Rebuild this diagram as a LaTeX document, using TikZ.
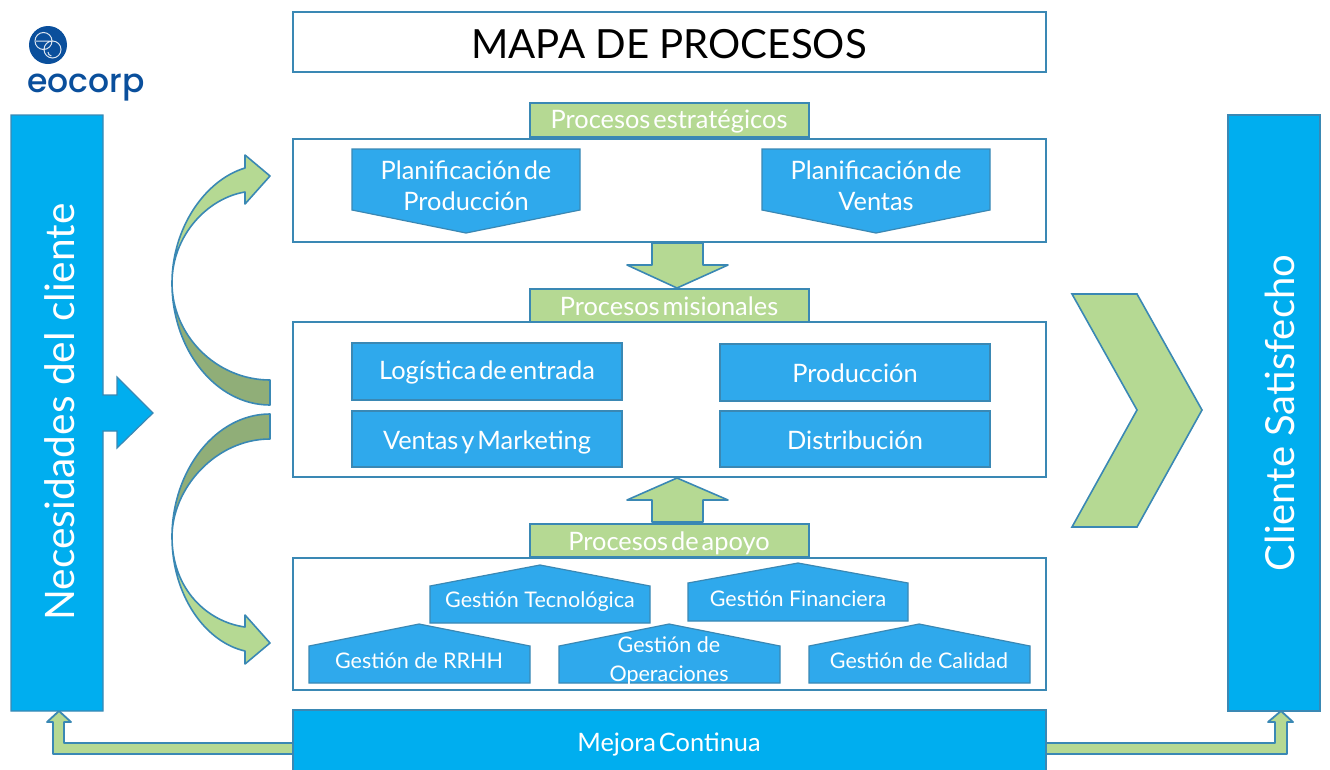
\documentclass[tikz,border=0pt]{standalone}
\usepackage{fontspec}
\setmainfont{Lato}
\newfontfamily\tightfont[WordSpace=0.45]{Lato}
\newfontfamily\logofont{Poppins Medium}
\definecolor{edge}{HTML}{3A88B4}
\definecolor{barblue}{HTML}{00AEEF}
\definecolor{tagblue}{HTML}{2FA9EC}
\definecolor{leaf}{HTML}{B5D993}
\definecolor{leafdark}{HTML}{90AE78}
\definecolor{logoblue}{HTML}{0A4F9C}
\tikzset{
  outline/.style={draw=edge,line width=1.3pt,fill=white},
  tagshape/.style={draw=edge,line width=1.2pt,fill=tagblue},
  barshape/.style={draw=edge,line width=1.2pt,fill=barblue},
  greenshape/.style={draw=edge,line width=1.6pt,fill=leaf,line join=round},
  darkshape/.style={draw=edge,line width=1.6pt,fill=leafdark,line join=round},
  wlabel/.style={text=white,font=\tightfont\fontsize{25.4}{31}\selectfont,align=center,inner sep=0pt},
  slabel/.style={text=white,font=\fontsize{21.5}{29}\selectfont,align=center,inner sep=0pt},
}
\begin{document}
\begin{tikzpicture}[x=1pt,y=-1pt]
\useasboundingbox (0,0) rectangle (1330,769);
% bottom return arrows
\path[greenshape,line width=1.8pt] (293,743) -- (64,743) -- (64,722) -- (71,722) -- (59,711) -- (47,722) -- (53,722) -- (53,754) -- (293,754) -- cycle;
\path[greenshape,line width=1.8pt] (1046,743) -- (1275,743) -- (1275,722) -- (1268,722) -- (1281,711) -- (1293,722) -- (1287,722) -- (1287,754) -- (1046,754) -- cycle;
% side bars
\path[barshape] (11,115) -- (103,115) -- (103,395) -- (117,395) -- (117,377) -- (153,413) -- (117,448) -- (117,431) -- (103,431) -- (103,711) -- (11,711) -- cycle;
\path[barshape] (1228,115) rectangle (1320,711);
\node[text=white,font=\fontsize{40.6}{44}\selectfont,rotate=90,inner sep=0pt] (need) at (60,412) {Necesidades del cliente};
\node[text=white,font=\fontsize{40}{44}\selectfont,rotate=90,inner sep=0pt] (happy) at (1280,413) {Cliente Satisfecho};
% logo
\fill[logoblue] (48,45) circle (19);
\draw[white!85!logoblue,line width=1pt] (43.5,41) circle (8.5) (52.5,49.5) circle (8.5) (36,41) -- (51,41) (48,52) arc (180:100:4);
\node[text=logoblue,font=\logofont\fontsize{33}{34}\selectfont,inner sep=0pt] (logo) at (86,87.5) {eocorp};
% title
\path[outline] (293,12) rectangle (1046,72);
\node[text=black,font=\fontsize{40.2}{44}\selectfont,inner sep=0pt] (title) at (669,44) {MAPA DE PROCESOS};
% strategic
\path[greenshape,line join=miter] (530,103) rectangle (809,137);
\node[wlabel] (est) at (669,122) {Procesos estratégicos};
\path[outline] (293,139) rectangle (1046,242);
\path[tagshape] (352,149) -- (580,149) -- (580,210) -- (466,233) -- (352,210) -- cycle;
\node[wlabel] (pp) at (466,186) {Planificación de\\Producción};
\path[tagshape] (762,149) -- (990,149) -- (990,210) -- (876,233) -- (762,210) -- cycle;
\node[wlabel] (pv) at (876,186) {Planificación de\\Ventas};
% down arrow
\path[greenshape] (652,243) -- (703,243) -- (703,265) -- (728,265) -- (677,288) -- (627,265) -- (652,265) -- cycle;
% missional
\path[greenshape,line join=miter] (530,289) rectangle (809,322);
\node[wlabel] (mis) at (669,306) {Procesos misionales};
\path[outline] (293,322) rectangle (1046,477);
\path[tagshape] (352,343) rectangle (622,400);
\node[wlabel] (log) at (487,372) {Logística de entrada};
\path[tagshape] (720,344) rectangle (990,401);
\node[wlabel] (prod) at (855,373) {Producción};
\path[tagshape] (352,411) rectangle (622,467);
\node[wlabel] (vent) at (487,442) {Ventas y Marketing};
\path[tagshape] (720,411) rectangle (990,467);
\node[wlabel] (dist) at (855,440) {Distribución};
% up arrow
\path[greenshape] (652,522) -- (703,522) -- (703,500) -- (728,500) -- (677,478) -- (627,500) -- (652,500) -- cycle;
% support
\path[greenshape,line join=miter] (530,524) rectangle (809,557);
\node[wlabel] (apo) at (669,543) {Procesos de apoyo};
\path[outline] (293,558) rectangle (1046,690);
\path[tagshape] (430,586) -- (540,565) -- (650,586) -- (650,623) -- (430,623) -- cycle;
\node[slabel] (gt) at (540,601.5) {Gestión Tecnológica};
\path[tagshape] (688,583) -- (798,563) -- (908,583) -- (908,621) -- (688,621) -- cycle;
\node[slabel] (gf) at (798,598.5) {Gestión Financiera};
\path[tagshape] (309,646) -- (419,624) -- (530,646) -- (530,683) -- (309,683) -- cycle;
\node[slabel] (gr) at (419,660.5) {Gestión de RRHH};
\path[tagshape] (559,646) -- (669,624) -- (780,646) -- (780,683) -- (559,683) -- cycle;
\node[slabel] (go) at (669,661) {Gestión de\\Operaciones};
\path[tagshape] (809,646) -- (919,624) -- (1030,646) -- (1030,683) -- (809,683) -- cycle;
\node[slabel] (gc) at (919,660.5) {Gestión de Calidad};
% mejora
\path[barshape] (293,710) rectangle (1046,772);
\node[wlabel] (mej) at (669,744) {Mejora Continua};
% curved arrows
\path[darkshape] (270,380) -- (270,405) .. controls (216,405) and (172,350) .. (172,283) .. controls (172,335) and (216,380) .. (270,380) -- cycle;
\path[greenshape] (172,283) .. controls (172,228) and (205,180) .. (245,168) -- (245,155) -- (270,176) -- (245,204) -- (245,192) .. controls (208,198) and (172,235) .. (172,283) -- cycle;
\path[darkshape] (270,439) -- (270,414) .. controls (216,414) and (172,470) .. (172,537) .. controls (172,488) and (216,439) .. (270,439) -- cycle;
\path[greenshape] (172,537) .. controls (172,590) and (208,622) .. (245,627) -- (245,615) -- (270,643) -- (245,664) -- (245,651) .. controls (205,642) and (172,595) .. (172,537) -- cycle;
% chevron
\path[greenshape,line join=miter] (1072,294) -- (1137,294) -- (1202,410) -- (1137,527) -- (1072,527) -- (1137,410) -- cycle;
\end{tikzpicture}
\end{document}
